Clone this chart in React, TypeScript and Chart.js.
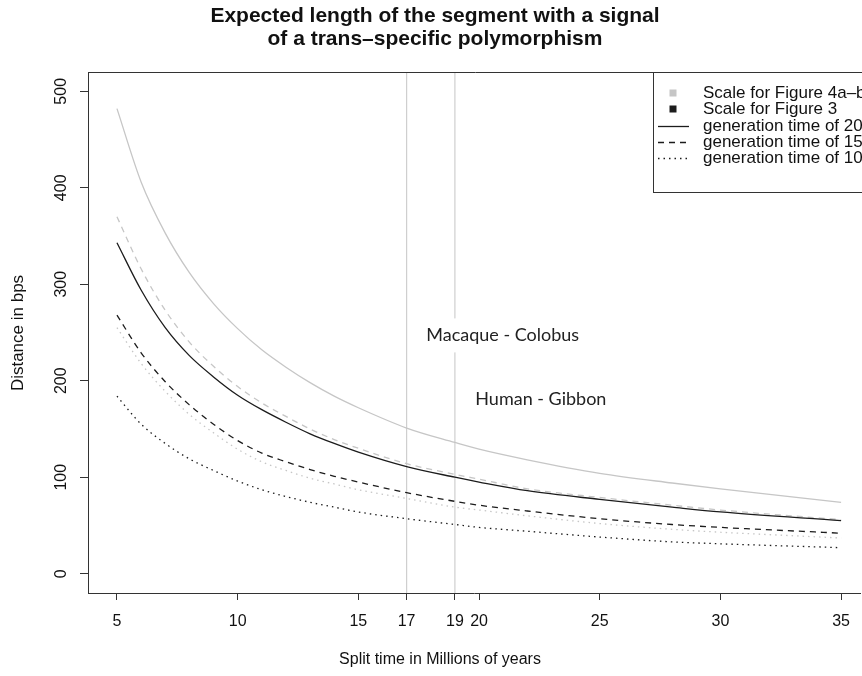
import React, { useEffect, useRef } from "react";
import { Chart, registerables } from "chart.js";

Chart.register(...registerables);

// ---- data ----
const splitTimes = [5, 6, 7, 8, 9, 10, 11, 12, 13, 14, 15, 17, 19, 20, 22, 25, 28, 30, 35];
// Scale for Figure 4a-b (grey)
const fig4Gen20 = [482, 406, 353, 312, 280, 254, 232, 214, 198, 184, 172, 151, 136, 129, 118, 104, 94, 88, 74];
const fig4Gen15 = [370, 316, 273, 240, 215, 194, 177, 163, 150, 139, 130, 114, 103, 98, 88, 79, 71, 66, 56];
const fig4Gen10 = [255, 218, 189, 165, 146, 129, 116, 107, 99, 93, 87, 78, 69, 66, 60, 52, 46, 43, 37];
// Scale for Figure 3 (black)
const fig3Gen20 = [343, 294, 255, 226, 204, 185, 170, 157, 145, 135, 126, 111, 100, 95, 86, 77, 69, 64, 55];
const fig3Gen15 = [268, 229, 199, 175, 155, 138, 125, 116, 108, 101, 95, 84, 75, 71, 65, 57, 51, 48, 42];
const fig3Gen10 = [184, 155, 135, 119, 107, 96, 87, 80, 74, 69, 64, 57, 51, 48, 44, 38, 33, 31, 27];

const xTicks = [5, 10, 15, 17, 19, 20, 25, 30, 35];
const yTicks = [0, 100, 200, 300, 400, 500];
const markerTimes = [17, 19];
const yMin = -20;
const yMax = 520;
const xMin = 3.8;
const xMax = 35.785;

const titleLines = ["Expected length of the segment with a signal", "of a trans\u2013specific polymorphism"];
const xTitle = "Split time in Millions of years";
const yTitle = "Distance in bps";
const legendLabels = [
  "Scale for Figure 4a\u2013b",
  "Scale for Figure 3",
  "generation time of 20",
  "generation time of 15",
  "generation time of 10",
];
const annotationLabels = ["Macaque - Colobus", "Human - Gibbon"];
const annotationX = [20.98, 22.56];
const annotationY = [247, 181];

// ---- styles ----
const GREY = "#c6c6c6";
const BLACK = "#1c1c1c";
const AXIS = "#333333";
const DASH = [6, 5];
const DOT = [1.5, 4];
const FONT = "'Liberation Sans', Arial, sans-serif";

const toPoints = (vals: number[]) => splitTimes.map((t, i) => ({ x: t, y: vals[i] }));

const curve = (vals: number[], color: string, dash: number[]) => ({
  data: toPoints(vals),
  borderColor: color,
  borderWidth: 1.3,
  borderDash: dash,
  pointRadius: 0,
  fill: false,
  cubicInterpolationMode: "monotone" as const,
});

const decorPlugin = {
  id: "rDecor",
  afterDatasetsDraw(chart: any) {
    const { ctx, scales } = chart;
    const x = scales.x;
    const y = scales.y;
    ctx.save();
    ctx.font = "18px Lato, 'Open Sans', sans-serif";
    ctx.textAlign = "center";
    ctx.textBaseline = "middle";
    annotationLabels.forEach((t, i) => {
      const px = x.getPixelForValue(annotationX[i]);
      const py = y.getPixelForValue(annotationY[i]);
      const w = ctx.measureText(t).width;
      ctx.fillStyle = "#ffffff";
      ctx.fillRect(px - w / 2 - 7, py - 17, w + 14, 34);
      ctx.fillStyle = "#222222";
      ctx.fillText(t, px, py);
    });
    ctx.restore();
  },
  afterDraw(chart: any) {
    const { ctx, chartArea, scales } = chart;
    const y = scales.y;
    ctx.save();

    // top border of the box
    ctx.strokeStyle = AXIS;
    ctx.lineWidth = 1;
    ctx.beginPath();
    ctx.moveTo(chartArea.left, Math.round(chartArea.top) + 0.5);
    ctx.lineTo(chartArea.right + 20, Math.round(chartArea.top) + 0.5);
    ctx.stroke();

    // title
    ctx.fillStyle = "#111111";
    ctx.textAlign = "center";
    ctx.textBaseline = "middle";
    ctx.font = `bold 21px ${FONT}`;
    ctx.fillText(titleLines[0], 435, 16);
    ctx.fillText(titleLines[1], 435, 39);

    // axis titles
    ctx.font = `16px ${FONT}`;
    ctx.fillText(xTitle, 440, 660);
    ctx.save();
    ctx.translate(18, 333);
    ctx.rotate(-Math.PI / 2);
    ctx.font = `17px ${FONT}`;
    ctx.fillText(yTitle, 0, 0);
    ctx.restore();

    // y tick labels (vertical, like R)
    ctx.font = `16px ${FONT}`;
    yTicks.forEach((v) => {
      const py = y.getPixelForValue(v);
      ctx.save();
      ctx.translate(62, py);
      ctx.rotate(-Math.PI / 2);
      ctx.fillText(String(v), 0, 0);
      ctx.restore();
    });

    // legend box
    const left = 653.5;
    const top = Math.round(chartArea.top) + 0.5;
    const bottom = 192.5;
    ctx.fillStyle = "#ffffff";
    ctx.fillRect(left, top, 300, bottom - top);
    ctx.strokeStyle = AXIS;
    ctx.lineWidth = 1;
    ctx.strokeRect(left, top, 300, bottom - top);

    const rows = [93, 109, 126, 142, 158];
    ctx.textAlign = "left";
    ctx.fillStyle = "#111111";
    ctx.font = `17px ${FONT}`;
    legendLabels.forEach((t, i) => ctx.fillText(t, 703, rows[i]));

    // symbols
    ctx.fillStyle = GREY;
    ctx.fillRect(669.5, rows[0] - 3.5, 7, 7);
    ctx.fillStyle = BLACK;
    ctx.fillRect(669.5, rows[1] - 3.5, 7, 7);
    const styles = [[], DASH, DOT];
    [2, 3, 4].forEach((r, k) => {
      ctx.strokeStyle = BLACK;
      ctx.lineWidth = 1.3;
      ctx.setLineDash(styles[k]);
      ctx.beginPath();
      ctx.moveTo(658, rows[r] + 0.5);
      ctx.lineTo(689, rows[r] + 0.5);
      ctx.stroke();
    });
    ctx.setLineDash([]);
    ctx.restore();
  },
};

export default function App() {
  const ref = useRef<HTMLCanvasElement | null>(null);

  useEffect(() => {
    if (!ref.current) return;
    const markerSets = markerTimes.map((t) => ({
      data: [
        { x: t, y: yMin },
        { x: t, y: yMax },
      ],
      borderColor: "#cfcfcf",
      borderWidth: 1.2,
      pointRadius: 0,
      fill: false,
    }));
    const chart = new Chart(ref.current, {
      type: "line",
      data: {
        datasets: [
          curve(fig3Gen20, BLACK, []),
          curve(fig3Gen15, BLACK, DASH),
          curve(fig3Gen10, BLACK, DOT),
          curve(fig4Gen20, GREY, []),
          curve(fig4Gen15, GREY, DASH),
          curve(fig4Gen10, GREY, DOT),
          ...markerSets,
        ] as any,
      },
      options: {
        animation: false,
        responsive: false,
        events: [],
        layout: { padding: { top: 72, left: 0, right: 0, bottom: 0 } },
        plugins: {
          legend: { display: false },
          tooltip: { enabled: false },
          title: { display: false },
        },
        scales: {
          x: {
            type: "linear",
            min: xMin,
            max: xMax,
            afterBuildTicks: (s: any) => {
              s.ticks = xTicks.map((v) => ({ value: v }));
            },
            afterFit: (s: any) => {
              s.height = 83;
            },
            ticks: {
              autoSkip: false,
              maxRotation: 0,
              minRotation: 0,
              padding: 12,
              color: "#111111",
              font: { family: FONT, size: 16 },
              callback: (v: any) => String(v),
            },
            grid: {
              drawOnChartArea: false,
              drawTicks: true,
              tickLength: 7,
              color: AXIS,
              lineWidth: 1,
            },
            border: { display: true, color: AXIS, width: 1 },
          },
          y: {
            type: "linear",
            min: yMin,
            max: yMax,
            afterBuildTicks: (s: any) => {
              s.ticks = yTicks.map((v) => ({ value: v }));
            },
            afterFit: (s: any) => {
              s.width = 88;
            },
            ticks: { display: false },
            grid: {
              drawOnChartArea: false,
              drawTicks: true,
              tickLength: 8,
              color: AXIS,
              lineWidth: 1,
            },
            border: { display: true, color: AXIS, width: 1 },
          },
        },
      } as any,
      plugins: [decorPlugin],
    });
    return () => chart.destroy();
  }, []);

  return (
    <div
      style={{
        position: "fixed",
        left: 0,
        top: 0,
        width: 862,
        height: 676,
        background: "#ffffff",
        overflow: "hidden",
      }}
    >
      <canvas ref={ref} width={862} height={676} style={{ width: 862, height: 676, display: "block" }} />
    </div>
  );
}
